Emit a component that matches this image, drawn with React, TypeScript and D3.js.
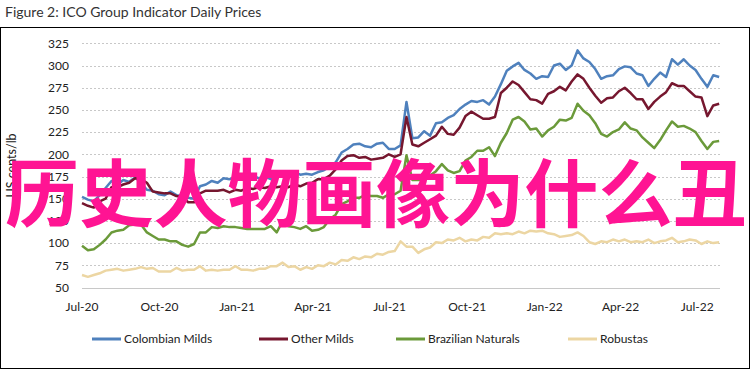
import React from 'react';
import * as d3 from 'd3';

// weekly samples starting 1 Jul 2020 (US cents/lb)
const startDate = new Date(2020, 6, 1);

const colombianMilds = [
  152, 149, 147, 154, 162, 170, 166, 171, 169, 174,
  168, 160, 159, 155, 154, 158, 154, 153, 151, 150,
  164, 166, 170, 168, 173, 172, 174, 173, 177, 176,
  173, 175, 172, 176, 176, 179, 180, 177, 178, 177,
  180, 182, 186, 191, 202, 206, 211, 212, 209, 208,
  212, 213, 206, 206, 210, 259, 218, 219, 226, 221,
  235, 236, 241, 244, 251, 256, 260, 259, 261, 256,
  265, 279, 294, 299, 303, 295, 291, 285, 288, 287,
  300, 302, 295, 300, 317, 308, 304, 296, 285, 288,
  289, 296, 299, 298, 291, 289, 277, 285, 292, 287,
  307, 301, 307, 300, 295, 285, 276, 289, 287,
];

const otherMilds = [
  145, 142, 140, 147, 150, 163, 163, 166, 168, 173,
  172, 168, 158, 157, 156, 156, 153, 152, 146, 146,
  156, 159, 159, 159, 160, 157, 160, 159, 162, 161,
  163, 162, 164, 163, 164, 163, 166, 164, 167, 168,
  172, 172, 176, 183, 193, 198, 199, 196, 197, 194,
  195, 196, 200, 197, 200, 242, 211, 209, 213, 217,
  221, 231, 223, 222, 230, 243, 248, 244, 240, 240,
  242, 269, 275, 282, 278, 270, 262, 261, 257, 268,
  271, 276, 272, 282, 290, 285, 275, 266, 258, 263,
  264, 271, 275, 269, 262, 262, 251, 259, 265, 270,
  280, 277, 277, 271, 265, 264, 243, 255, 257,
];

const brazilianNaturals = [
  97, 92, 93, 98, 104, 112, 114, 115, 120, 121,
  121, 112, 108, 104, 104, 102, 102, 98, 96, 99,
  112, 112, 118, 117, 119, 118, 118, 117, 116, 116,
  116, 116, 119, 112, 125, 119, 118, 116, 119, 114,
  115, 118, 127, 132, 144, 147, 151, 151, 154, 153,
  153, 151, 155, 155, 159, 199, 171, 171, 171, 176,
  181, 189, 182, 179, 181, 193, 197, 204, 204, 208,
  198, 213, 224, 239, 242, 237, 228, 229, 220, 227,
  231, 239, 238, 241, 257, 249, 244, 235, 223, 220,
  225, 228, 236, 229, 227, 219, 213, 207, 216, 227,
  237, 231, 232, 229, 225, 215, 206, 214, 215,
];

const robustas = [
  64, 62, 64, 66, 69, 70, 71, 69, 70, 71,
  73, 71, 72, 68, 68, 68, 72, 69, 70, 70,
  74, 69, 70, 69, 70, 70, 74, 70, 70, 69,
  71, 71, 74, 74, 78, 73, 74, 70, 73, 71,
  75, 74, 78, 76, 81, 80, 84, 82, 85, 84,
  88, 87, 90, 91, 102, 96, 96, 89, 93, 95,
  101, 100, 104, 103, 106, 102, 104, 103, 107, 106,
  111, 110, 111, 110, 113, 111, 114, 113, 114, 111,
  110, 107, 108, 109, 112, 108, 101, 99, 102, 101,
  104, 102, 104, 101, 102, 101, 104, 100, 102, 103,
  106, 101, 102, 104, 103, 99, 102, 100, 101,
];

const seriesNames = ['Colombian Milds', 'Other Milds', 'Brazilian Naturals', 'Robustas'];
const seriesColors = ['#4f81bd', '#76172f', '#6b9a3a', '#ecd6a3'];
const seriesValues = [colombianMilds, otherMilds, brazilianNaturals, robustas];

const yTicks = [50, 75, 100, 125, 150, 175, 200, 225, 250, 275, 300, 325];
const xTickDates = ['2020-07-01', '2020-10-01', '2021-01-01', '2021-04-01', '2021-07-01',
  '2021-10-01', '2022-01-01', '2022-04-01', '2022-07-01'];

const font = "Lato, 'Open Sans', sans-serif";

const App = () => {
  const width = 751;
  const height = 370;
  const parse = d3.timeParse('%Y-%m-%d');
  const fmt = d3.timeFormat('%b-%y');

  const x = d3.scaleTime()
    .domain([startDate, new Date(2022, 6, 28)])
    .range([82, 720]);
  const y = d3.scaleLinear().domain([50, 325]).range([287.5, 43.3]);

  const dates = colombianMilds.map((_, i) => d3.timeDay.offset(startDate, i * 7));
  const line = d3.line<number>()
    .x((_, i) => x(dates[i]))
    .y(d => y(d));

  // legend positions
  const legendX = [92, 259, 396, 568];
  const midY = (y(50) + y(325)) / 2;

  return (
    <svg width={width} height={height} style={{ position: 'absolute', left: 0, top: 0, background: '#fff' }}
      fontFamily={font}>
      <text x={5} y={17} fontSize={14} fill="#333">Figure 2: ICO Group Indicator Daily Prices</text>
      <rect x={0.5} y={27.5} width={749} height={341} fill="none" stroke="#000" strokeWidth={1} />

      {yTicks.map(t => (
        <g key={t}>
          <line x1={82} x2={720} y1={Math.round(y(t)) + 0.5} y2={Math.round(y(t)) + 0.5}
            stroke="#c8c8c8" strokeWidth={1}
            strokeDasharray={t === 50 ? undefined : '2,2'} />
          <text x={69} y={y(t)} dy="0.35em" textAnchor="end" fontSize={12} fill="#222">{t}</text>
        </g>
      ))}

      {xTickDates.map(d => {
        const dt = parse(d)!;
        return (
          <text key={d} x={x(dt)} y={307} dy="0.35em" textAnchor="middle" fontSize={12} fill="#222">
            {fmt(dt)}
          </text>
        );
      })}

      <text x={-midY} y={16} transform="rotate(-90)" textAnchor="middle"
        fontSize={12.5} fill="#222">US cents/lb</text>

      {seriesValues.map((vals, i) => (
        <path key={seriesNames[i]} d={line(vals) || ''} fill="none" stroke={seriesColors[i]}
          strokeWidth={2.5} strokeLinejoin="round" />
      ))}

      {seriesNames.map((name, i) => (
        <g key={name} transform={`translate(${legendX[i]},339)`}>
          <line x1={0} x2={29} y1={0} y2={0} stroke={seriesColors[i]} strokeWidth={3} />
          <text x={32} y={0} dy="0.35em" fontSize={12} fill="#222">{name}</text>
        </g>
      ))}

      <text x={5} y={221} fontSize={74.2} fontWeight="bold" fill="#ff1493"
        fontFamily="'Noto Sans CJK SC', sans-serif">历史人物画像为什么丑</text>
    </svg>
  );
};

export default App;
